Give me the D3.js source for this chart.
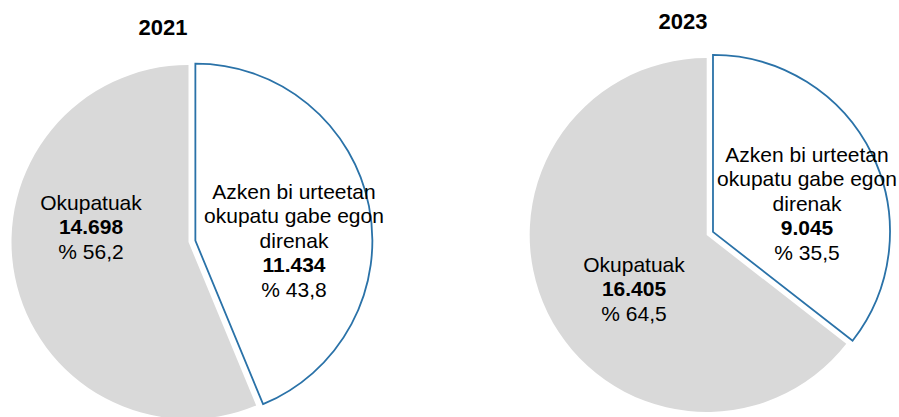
<!DOCTYPE html>
<html>
<head>
<meta charset="utf-8">
<script src="https://cdn.jsdelivr.net/npm/d3@7"></script>
<style>
  body { margin: 0; background: #fff; }
  svg { display: block; font-family: "Liberation Sans", Arial, sans-serif; }
</style>
</head>
<body>
<div id="chart"></div>
<script>
// data
var years = ["2021", "2023"];
var categories = [
  ["Azken bi urteetan", "okupatu gabe egon", "direnak"],
  ["Okupatuak"]
];
var notEmployed = [11434, 9045];
var employed = [14698, 16405];

var colors = ["#ffffff", "#d9d9d9"];
var strokes = ["#2a72a8", "none"];

// layout for each pie (centre, radius, title and label anchors)
var layout = [
  { cx: 188.5, cy: 242, r: 177, titleX: 163, titleY: 35,
    labels: [{ x: 294, y: 199 }, { x: 91, y: 210 }] },
  { cx: 706.7, cy: 235, r: 177, titleX: 683, titleY: 29,
    labels: [{ x: 807, y: 162 }, { x: 634, y: 272 }] }
];
var explode = 7;
var lineH = 24.4;

var width = 899, height = 417;

var locale = d3.formatLocale({ decimal: ",", thousands: ".", grouping: [3], currency: ["", ""] });
var fmtNum = locale.format(",d");
var fmtPct = locale.format(".1f");

var svg = d3.select("#chart").append("svg")
  .attr("width", width)
  .attr("height", height);

var pie = d3.pie().sort(null).value(function (d) { return d; });

years.forEach(function (year, i) {
  var L = layout[i];
  var values = [notEmployed[i], employed[i]];
  var total = d3.sum(values);
  var arcs = pie(values);
  var arc = d3.arc().innerRadius(0).outerRadius(L.r);

  var g = svg.append("g").attr("transform", "translate(" + L.cx + "," + L.cy + ")");

  // draw the gray slice first, then the exploded white one on top
  [1, 0].forEach(function (k) {
    var a = arcs[k];
    var mid = (a.startAngle + a.endAngle) / 2;
    var off = k === 0 ? explode : 0;
    g.append("path")
      .attr("d", arc(a))
      .attr("transform", "translate(" + (Math.sin(mid) * off) + "," + (-Math.cos(mid) * off) + ")")
      .attr("fill", colors[k])
      .attr("stroke", strokes[k])
      .attr("stroke-width", 1.8)
      .attr("stroke-linejoin", "miter");
  });

  // title
  svg.append("text")
    .attr("x", L.titleX)
    .attr("y", L.titleY)
    .attr("text-anchor", "middle")
    .attr("font-size", "22px")
    .attr("font-weight", "bold")
    .attr("fill", "#000")
    .text(year);

  // labels
  arcs.forEach(function (a, k) {
    var pos = L.labels[k];
    var lines = categories[k].map(function (t) { return { t: t, b: false }; });
    lines.push({ t: fmtNum(values[k]), b: true });
    lines.push({ t: "% " + fmtPct(values[k] / total * 100), b: false });

    var txt = svg.append("text")
      .attr("text-anchor", "middle")
      .attr("font-size", "21px")
      .attr("fill", "#000");

    txt.selectAll("tspan")
      .data(lines)
      .join("tspan")
      .attr("x", pos.x)
      .attr("y", function (d, j) { return pos.y + j * lineH; })
      .attr("font-weight", function (d) { return d.b ? "bold" : "normal"; })
      .text(function (d) { return d.t; });
  });
});
</script>
</body>
</html>
